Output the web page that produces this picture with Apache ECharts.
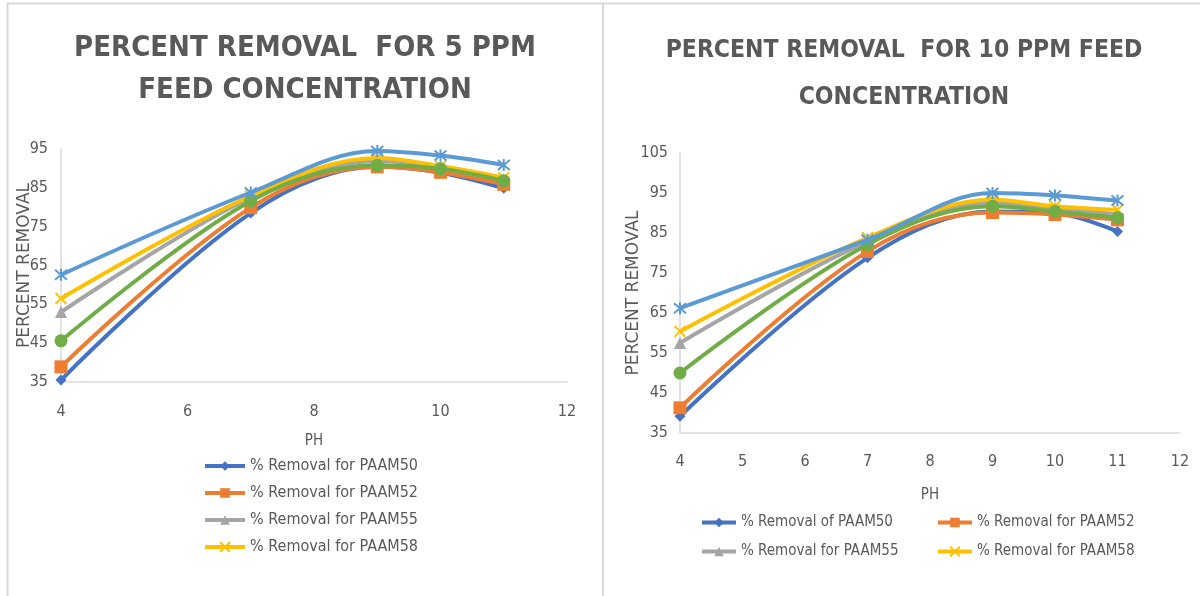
<!DOCTYPE html>
<html><head><meta charset="utf-8">
<script src="https://cdn.jsdelivr.net/npm/echarts@6/dist/echarts.min.js"></script>
<style>html,body{margin:0;padding:0;background:#fff}#c{width:1200px;height:596px}</style>
</head><body><div id="c"></div>
<script>
// ---- data ----
const phValues = [4, 7, 9, 10, 11];
// 5 ppm feed concentration
const left_PAAM50 = [35.5, 78.5, 90.4, 88.9, 84.9];
const left_PAAM52 = [38.9, 79.9, 90.4, 89.0, 85.9];
const left_PAAM55 = [53.0, 82.5, 91.9, 90.4, 87.2];
const left_PAAM58 = [56.5, 82.9, 92.7, 90.6, 87.6];
const left_S5 = [45.6, 81.6, 90.8, 89.9, 86.8];
const left_S6 = [62.6, 83.8, 94.5, 93.3, 90.9];
// 10 ppm feed concentration
const right_PAAM50 = [39.2, 78.8, 90.4, 90.0, 85.4];
const right_PAAM52 = [41.3, 80.4, 90.1, 89.6, 88.3];
const right_PAAM55 = [57.5, 82.9, 92.5, 91.3, 89.6];
const right_PAAM58 = [60.4, 83.8, 93.3, 91.7, 90.8];
const right_S5 = [50.0, 82.1, 91.7, 90.4, 88.8];
const right_S6 = [66.2, 83.3, 95.0, 94.4, 93.1];

const leftTitle = 'PERCENT REMOVAL  FOR 5 PPM\nFEED CONCENTRATION';
const rightTitle = 'PERCENT REMOVAL  FOR 10 PPM FEED\nCONCENTRATION';
const leftNames = ['% Removal for PAAM50', '% Removal for PAAM52', '% Removal for PAAM55', '% Removal for PAAM58', 'Series5', 'Series6'];
const rightNames = ['% Removal of PAAM50', '% Removal for PAAM52', '% Removal for PAAM55', '% Removal for PAAM58', 'Series5 ', 'Series6 '];
const yAxisName = 'PERCENT REMOVAL';
const xAxisName = 'PH';

// ---- styling ----
const colors = ['#4472C4', '#ED7D31', '#A5A5A5', '#FFC000', '#70AD47', '#5B9BD5'];
const xPath = 'path://M0,0L10,10M10,0L0,10';
const starPath = 'path://M0,0L10,10M10,0L0,10M5,-1L5,11';
const symbols = ['diamond', 'rect', 'triangle', xPath, 'circle', starPath];
const symSizes = [11, 13, 12, 11, 13, 12];
const txt = '#595959';
const narrow = '"DejaVu Sans Condensed", sans-serif';

function pairs(arr) { return phValues.map((x, i) => [x, arr[i]]); }
function mkSeries(names, arrs, idx) {
  return arrs.map((a, i) => ({
    name: names[i], type: 'line', xAxisIndex: idx, yAxisIndex: idx,
    data: pairs(a), smooth: 0.35, showSymbol: true,
    symbol: symbols[i], symbolSize: symSizes[i],
    lineStyle: { width: 4, color: colors[i] },
    itemStyle: { color: colors[i], borderColor: colors[i], borderWidth: (i === 3 || i === 5) ? 2 : 0 },
    emphasis: { disabled: true }, z: 2 + i
  }));
}

function xAx(idx, interval, margin, gap) {
  return {
    gridIndex: idx, type: 'value', min: 4, max: 12, interval: interval,
    name: xAxisName, nameLocation: 'middle', nameGap: gap, nameMoveOverlap: false,
    nameTextStyle: { color: txt, fontFamily: narrow, fontSize: 15 },
    axisLine: { show: true, lineStyle: { color: '#d9d9d9', width: 1.5 } },
    axisTick: { show: false }, splitLine: { show: false },
    axisLabel: { color: txt, fontFamily: narrow, fontSize: 16, margin: margin }
  };
}
function yAx(idx, max, margin, gap, nameSize) {
  return {
    gridIndex: idx, type: 'value', min: 35, max: max, interval: 10,
    name: yAxisName, nameLocation: 'middle', nameRotate: 90, nameGap: gap, nameMoveOverlap: false,
    nameTextStyle: { color: txt, fontFamily: 'DejaVu Sans', fontSize: nameSize },
    axisLine: { show: true, lineStyle: { color: '#d9d9d9', width: 1.5 } },
    axisTick: { show: false }, splitLine: { show: false },
    axisLabel: { color: txt, fontFamily: narrow, fontSize: 16, margin: margin }
  };
}
function legendCol(names, left, top, gap, size, w) {
  return {
    data: names, orient: 'vertical', left: left, top: top, padding: 0,
    itemWidth: w, itemHeight: 12, itemGap: gap,
    lineStyle: { width: 4 },
    textStyle: { color: txt, fontFamily: narrow, fontSize: size }
  };
}

const chart = echarts.init(document.getElementById('c'), null, { renderer: 'canvas' });
chart.setOption({
  animation: false,
  backgroundColor: '#fff',
  grid: [
    { left: 61, width: 506, top: 149, height: 233, containLabel: false },
    { left: 680, width: 500, top: 153, height: 280, containLabel: false }
  ],
  xAxis: [xAx(0, 2, 22, 52), xAx(1, 1, 21, 55)],
  yAxis: [yAx(0, 95, 13, 28, 17), yAx(1, 105, 12, 38, 17)],
  legend: [
    legendCol(leftNames.slice(0, 4), 203, 458, 11, 16, 40),
    legendCol([rightNames[0], rightNames[2]], 700, 515, 14, 15, 34),
    legendCol([rightNames[1], rightNames[3]], 936, 515, 14, 15, 34)
  ],
  graphic: [
    { type: 'line', shape: { x1: 7, y1: 3.5, x2: 1200, y2: 3.5 }, style: { stroke: '#d9d9d9', lineWidth: 2 }, silent: true },
    { type: 'line', shape: { x1: 7.5, y1: 3, x2: 7.5, y2: 596 }, style: { stroke: '#d9d9d9', lineWidth: 2 }, silent: true },
    { type: 'line', shape: { x1: 603, y1: 3, x2: 603, y2: 596 }, style: { stroke: '#d9d9d9', lineWidth: 2 }, silent: true },
    {
      type: 'text', x: 305, y: 69, silent: true,
      style: { text: leftTitle, textAlign: 'center', textVerticalAlign: 'middle', fill: txt,
        font: 'bold 29px "DejaVu Sans Condensed", sans-serif', lineHeight: 42 }
    },
    {
      type: 'text', x: 904, y: 74, silent: true,
      style: { text: rightTitle, textAlign: 'center', textVerticalAlign: 'middle', fill: txt,
        font: 'bold 24.5px "DejaVu Sans Condensed", sans-serif', lineHeight: 47 }
    }
  ],
  series: [].concat(
    mkSeries(leftNames, [left_PAAM50, left_PAAM52, left_PAAM55, left_PAAM58, left_S5, left_S6], 0),
    mkSeries(rightNames, [right_PAAM50, right_PAAM52, right_PAAM55, right_PAAM58, right_S5, right_S6], 1)
  )
});
</script></body></html>
